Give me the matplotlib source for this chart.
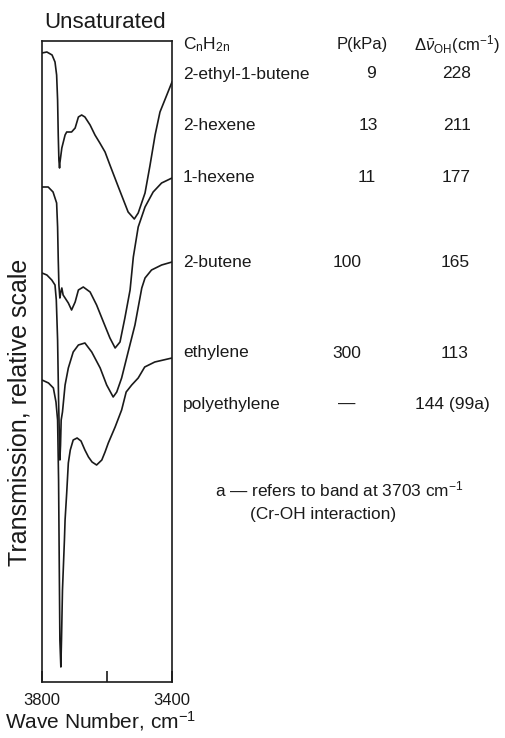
import matplotlib
matplotlib.use("Agg")
import matplotlib.pyplot as plt

plt.rcParams['font.family'] = ['Liberation Sans', 'DejaVu Sans']
plt.rcParams['mathtext.fontset'] = 'custom'
plt.rcParams['mathtext.rm'] = 'Liberation Sans'
plt.rcParams['mathtext.it'] = 'Liberation Sans:italic'
plt.rcParams['mathtext.bf'] = 'Liberation Sans:bold'

# ---- data (wavenumber cm-1, relative transmission, offset per spectrum) ----
wn_ethylbutene = [3800, 3785, 3769, 3760, 3755, 3752, 3750, 3748, 3746, 3745, 3739, 3729, 3724, 3709,
                  3698, 3688, 3678, 3668, 3652, 3637, 3622, 3606, 3591, 3565, 3535, 3516, 3504, 3483,
                  3468, 3452, 3437, 3416, 3400]
tr_ethylbutene = [629, 630, 627, 620, 607, 582, 547, 522, 514, 519, 534, 547, 550, 550,
                  554, 565, 567, 565, 557, 547, 539, 530, 517, 495, 470, 463, 469, 489,
                  516, 547, 570, 587, 600]

wn_hexene1 = [3800, 3781, 3766, 3755, 3752, 3750, 3748, 3745, 3742, 3739, 3735, 3719, 3709, 3698,
              3688, 3673, 3652, 3632, 3611, 3591, 3575, 3560, 3545, 3529, 3519, 3504, 3483, 3458,
              3432, 3400]
tr_hexene1 = [495, 495, 490, 479, 455, 422, 397, 384, 390, 394, 387, 379, 372, 380,
              392, 395, 390, 377, 360, 344, 334, 340, 364, 392, 425, 455, 475, 490,
              499, 504]

wn_butene2 = [3800, 3785, 3770, 3760, 3756, 3752, 3749, 3746, 3745, 3743, 3741, 3737, 3729, 3719,
              3704, 3688, 3668, 3647, 3621, 3601, 3581, 3570, 3555, 3535, 3514, 3493, 3483, 3463,
              3432, 3400]
tr_butene2 = [409, 407, 402, 397, 382, 342, 282, 237, 222, 237, 262, 270, 297, 314,
              330, 337, 339, 330, 314, 297, 285, 290, 304, 330, 357, 394, 404, 412,
              417, 420]

wn_ethylene = [3800, 3780, 3765, 3757, 3752, 3749, 3747, 3745, 3742, 3740, 3737, 3731, 3729, 3724,
               3719, 3713, 3704, 3692, 3680, 3668, 3657, 3646, 3632, 3616, 3606, 3596, 3575, 3555,
               3541, 3524, 3504, 3484, 3453, 3400]
tr_ethylene = [302, 299, 294, 280, 262, 202, 122, 42, 15, 42, 92, 142, 162, 189,
               219, 232, 242, 244, 241, 232, 225, 220, 217, 222, 230, 239, 255, 272,
               290, 297, 304, 315, 320, 324]

spectra = [
    ("2-ethyl-1-butene", wn_ethylbutene, tr_ethylbutene),
    ("1-hexene", wn_hexene1, tr_hexene1),
    ("2-butene", wn_butene2, tr_butene2),
    ("ethylene", wn_ethylene, tr_ethylene),
]

table_names = ["2-ethyl-1-butene", "2-hexene", "1-hexene", "2-butene", "ethylene", "polyethylene"]
table_p = ["9", "13", "11", "100", "300", "\u2014"]
table_dnu = ["228", "211", "177", "165", "113", "144 (99a)"]

W, H = 506, 738
fig = plt.figure(figsize=(W / 100, H / 100), dpi=100)
ax = fig.add_axes([42 / W, 1 - 682 / H, 130 / W, 641 / H])

for name, wn, tr in spectra:
    ax.plot(wn, tr, color='#1a1a1a', lw=1.2)

ax.set_xlim(3800, 3400)
ax.set_ylim(0, 641)
ax.set_yticks([])
ax.set_xticks([3800, 3600, 3400])
ax.set_xticklabels(['3800', '', '3400'])
ax.tick_params(axis='x', direction='in', length=8, width=1.2, labelsize=12, pad=8, colors='#1a1a1a')
for s in ax.spines.values():
    s.set_linewidth(1.2)
    s.set_color('#1a1a1a')

def fx(x):
    return x / W

def fy(y):
    return 1 - y / H

tc = '#1a1a1a'
fig.text(fx(105), fy(22), "Unsaturated", fontsize=16, ha='center', va='center', color=tc)
fig.text(fx(20), fy(412), "Transmission, relative scale", fontsize=18, rotation=90,
         ha='center', va='center', color=tc)
fig.text(fx(100), fy(721), "Wave Number, cm$^{-1}$", fontsize=15, ha='center', va='center', color=tc)

# table headers
fig.text(fx(183), fy(45), r"C$_{\mathrm{n}}$H$_{\mathrm{2n}}$", fontsize=12.5, ha='left', va='center', color=tc)
fig.text(fx(362), fy(44), "P(kPa)", fontsize=12, ha='center', va='center', color=tc)
fig.text(fx(457), fy(45), r"$\Delta\bar{\mathit{\nu}}_{\mathrm{OH}}$(cm$^{-1}$)", fontsize=12,
         ha='center', va='center', color=tc)

row_y = [74, 126, 177, 262, 353, 404]
p_x = [371, 368, 367, 347, 347, 347]
d_x = [457, 457, 456, 455, 455, 452]
for nm, p, d, y, px_, dx_ in zip(table_names, table_p, table_dnu, row_y, p_x, d_x):
    fig.text(fx(183), fy(y), nm, fontsize=12.5, ha='left', va='center', color=tc)
    fig.text(fx(px_), fy(y), p, fontsize=12.5, ha='center', va='center', color=tc)
    fig.text(fx(dx_), fy(y), d, fontsize=12.5, ha='center', va='center', color=tc)

fig.text(fx(215), fy(489), "a \u2014 refers to band at 3703 cm$^{-1}$", fontsize=12.4,
         ha='left', va='center', color=tc)
fig.text(fx(250), fy(515), "(Cr-OH interaction)", fontsize=12.4, ha='left', va='center', color=tc)

fig.savefig("out.png", dpi=100)
